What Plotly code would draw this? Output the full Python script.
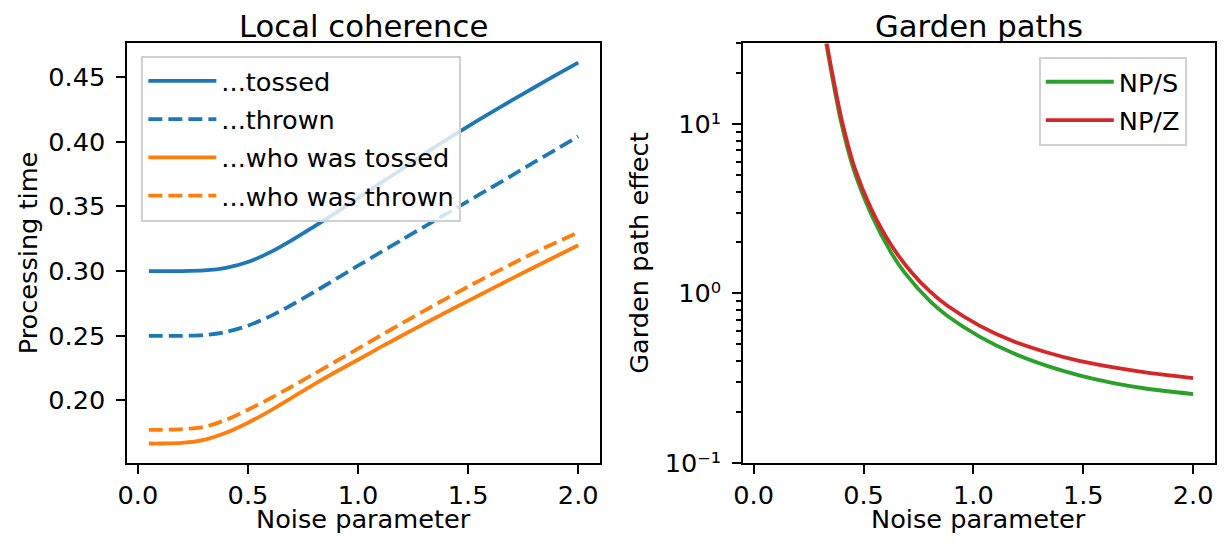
import math
import plotly.graph_objects as go

# The page is 1225x558 and the browser body keeps its default 8px margin,
# so the figure fills the remaining area; positions below are page pixels.
PAGE_W, PAGE_H = 1225, 558
OFF = 8
FW, FH = PAGE_W - 2 * OFF, PAGE_H - 2 * OFF

# ---------------- data ----------------
noise_left = [0.05, 0.1, 0.2, 0.3, 0.4, 0.5, 0.6, 0.7, 0.8, 0.9, 1.0,
              1.1, 1.2, 1.3, 1.4, 1.5, 1.6, 1.7, 1.8, 1.9, 2.0]
tossed = [0.3000, 0.3000, 0.3000, 0.3005, 0.3025, 0.3070, 0.3145, 0.3240,
          0.3345, 0.3453, 0.3565, 0.3678, 0.3790, 0.3905, 0.4015, 0.4120,
          0.4222, 0.4322, 0.4420, 0.4517, 0.4613]
thrown = [0.2500, 0.2500, 0.2500, 0.2505, 0.2530, 0.2578, 0.2650, 0.2740,
          0.2838, 0.2940, 0.3042, 0.3143, 0.3243, 0.3343, 0.3442, 0.3541,
          0.3641, 0.3741, 0.3842, 0.3942, 0.4042]
who_tossed = [0.1667, 0.1667, 0.1672, 0.1695, 0.1750, 0.1828, 0.1920, 0.2022,
              0.2125, 0.2222, 0.2315, 0.2410, 0.2502, 0.2593, 0.2682, 0.2770,
              0.2857, 0.2944, 0.3030, 0.3115, 0.3200]
who_thrown = [0.1773, 0.1773, 0.1778, 0.1795, 0.1850, 0.1928, 0.2015, 0.2108,
              0.2205, 0.2303, 0.2400, 0.2500, 0.2597, 0.2693, 0.2788, 0.2880,
              0.2970, 0.3057, 0.3142, 0.3222, 0.3300]

noise_nps = [0.330, 0.353, 0.396, 0.454, 0.536, 0.626, 0.686, 0.807, 0.882,
             1.032, 1.182, 1.332, 1.482, 1.632, 1.783, 2.000]
np_s = [30.0, 20.5, 10.57, 5.46, 2.92, 1.74, 1.33, 0.887, 0.736,
        0.552, 0.443, 0.374, 0.328, 0.296, 0.274, 0.254]
noise_npz = [0.333, 0.356, 0.401, 0.461, 0.536, 0.626, 0.716, 0.807, 0.882,
             1.032, 1.182, 1.332, 1.482, 1.632, 1.783, 2.000]
np_z = [30.0, 20.5, 10.57, 5.46, 3.14, 1.93, 1.343, 1.013, 0.845,
        0.641, 0.521, 0.449, 0.399, 0.366, 0.341, 0.316]

x_ticks = [0.0, 0.5, 1.0, 1.5, 2.0]
left_yticks = [0.20, 0.25, 0.30, 0.35, 0.40, 0.45]
right_yticks = [0.1, 1, 10]
right_yticktext = ["10\u207b\u00b9", "10\u2070", "10\u00b9"]
right_minor = [0.2, 0.3, 0.4, 0.5, 0.6, 0.7, 0.8, 0.9,
               2, 3, 4, 5, 6, 7, 8, 9, 20, 30]

# ---------------- styling ----------------
FONT = "DejaVu Sans"
FS = 25.6
TFS = 30.7
LW = 3.8
DASH = "14px,6px"
BLUE, ORANGE, GREEN, RED = "#1f77b4", "#ff7f0e", "#2ca02c", "#d62728"

L_X0, L_X1 = 118.5, 595.5
R_X0, R_X1 = 740.5, 1216.5
Y_TOP, Y_BOT = 44.5, 475.5


def px(x):
    return (x - OFF) / FW


def py(y):
    return 1 - (y - OFF) / FH


fig = go.Figure()

left_series = [
    ("...tossed", tossed, BLUE, "solid"),
    ("...thrown", thrown, BLUE, DASH),
    ("...who was tossed", who_tossed, ORANGE, "solid"),
    ("...who was thrown", who_thrown, ORANGE, DASH),
]
for i, (name, ys, col, dash) in enumerate(left_series):
    fig.add_trace(go.Scatter(
        x=noise_left, y=ys, name=name, mode="lines",
        line=dict(color=col, width=LW, dash=dash, shape="spline", smoothing=0.8),
        xaxis="x", yaxis="y", legend="legend", legendgroup=f"l{i}",
    ))

for i, (name, xs, ys, col) in enumerate([("NP/S", noise_nps, np_s, GREEN),
                                          ("NP/Z", noise_npz, np_z, RED)]):
    fig.add_trace(go.Scatter(
        x=xs, y=ys, name=name, mode="lines",
        line=dict(color=col, width=LW, shape="spline", smoothing=0.8),
        xaxis="x2", yaxis="y2", legend="legend2", legendgroup=f"r{i}",
    ))

axis_common = dict(
    showline=True, linecolor="black", linewidth=2, mirror=True,
    ticks="outside", ticklen=9, tickwidth=2, tickcolor="black",
    showgrid=False, zeroline=False,
    tickfont=dict(family=FONT, size=FS, color="black"),
)

ydom = [py(Y_BOT), py(Y_TOP)]

fig.update_layout(
    width=FW, height=FH,
    margin=dict(l=0, r=0, t=0, b=0),
    paper_bgcolor="white", plot_bgcolor="white",
    font=dict(family=FONT, size=FS, color="black"),
    xaxis=dict(domain=[px(L_X0), px(L_X1)], range=[-0.0475, 2.0975],
               tickvals=x_ticks, tickformat=".1f", anchor="y",
               ticklabelstandoff=0, **axis_common),
    yaxis=dict(domain=ydom, range=[0.15197, 0.47603],
               tickvals=left_yticks, tickformat=".2f", anchor="x",
               ticklabelstandoff=6, **axis_common),
    xaxis2=dict(domain=[px(R_X0), px(R_X1)], range=[-0.0475, 2.0975],
                tickvals=x_ticks, tickformat=".1f", anchor="y2",
                ticklabelstandoff=0, **axis_common),
    yaxis2=dict(domain=ydom, type="log", range=[-1, math.log10(30)],
                tickvals=right_yticks, ticktext=right_yticktext, anchor="x2",
                ticklabelstandoff=6,
                minor=dict(ticks="outside", ticklen=5, tickwidth=1.5,
                           tickcolor="black", tickvals=right_minor, showgrid=False),
                **axis_common),
    legend=dict(
        x=px(132.6), y=py(57), xanchor="left", yanchor="top",
        bgcolor="rgba(255,255,255,0.8)", bordercolor="#d0d0d0", borderwidth=2,
        font=dict(family=FONT, size=FS, color="black"),
        itemwidth=68, tracegroupgap=2,
    ),
    legend2=dict(
        x=px(1039), y=py(58), xanchor="left", yanchor="top",
        bgcolor="rgba(255,255,255,0.8)", bordercolor="#d0d0d0", borderwidth=2,
        font=dict(family=FONT, size=FS, color="black"),
        itemwidth=68, tracegroupgap=2,
    ),
    showlegend=True,
)


def ann(text, x, y, size=FS, angle=0, xanchor="center", yanchor="middle"):
    fig.add_annotation(text=text, x=px(x), y=py(y), xref="paper", yref="paper",
                       showarrow=False, textangle=angle, xanchor=xanchor, yanchor=yanchor,
                       font=dict(family=FONT, size=size, color="black"))


# titles
ann("Local coherence", (L_X0 + L_X1) / 2, 7, size=TFS, yanchor="top")
ann("Garden paths", (R_X0 + R_X1) / 2, 7, size=TFS, yanchor="top")
# x labels
ann("Noise parameter", (L_X0 + L_X1) / 2, PAGE_H - OFF + 1, yanchor="bottom")
ann("Noise parameter", (R_X0 + R_X1) / 2, PAGE_H - OFF + 1, yanchor="bottom")
# y labels
ann("Processing time", 18.4, (Y_TOP + Y_BOT) / 2, angle=-90)
ann("Garden path effect", 635, (Y_TOP + Y_BOT) / 2, angle=-90)

fig.write_html("out.html", config={"displayModeBar": False})
